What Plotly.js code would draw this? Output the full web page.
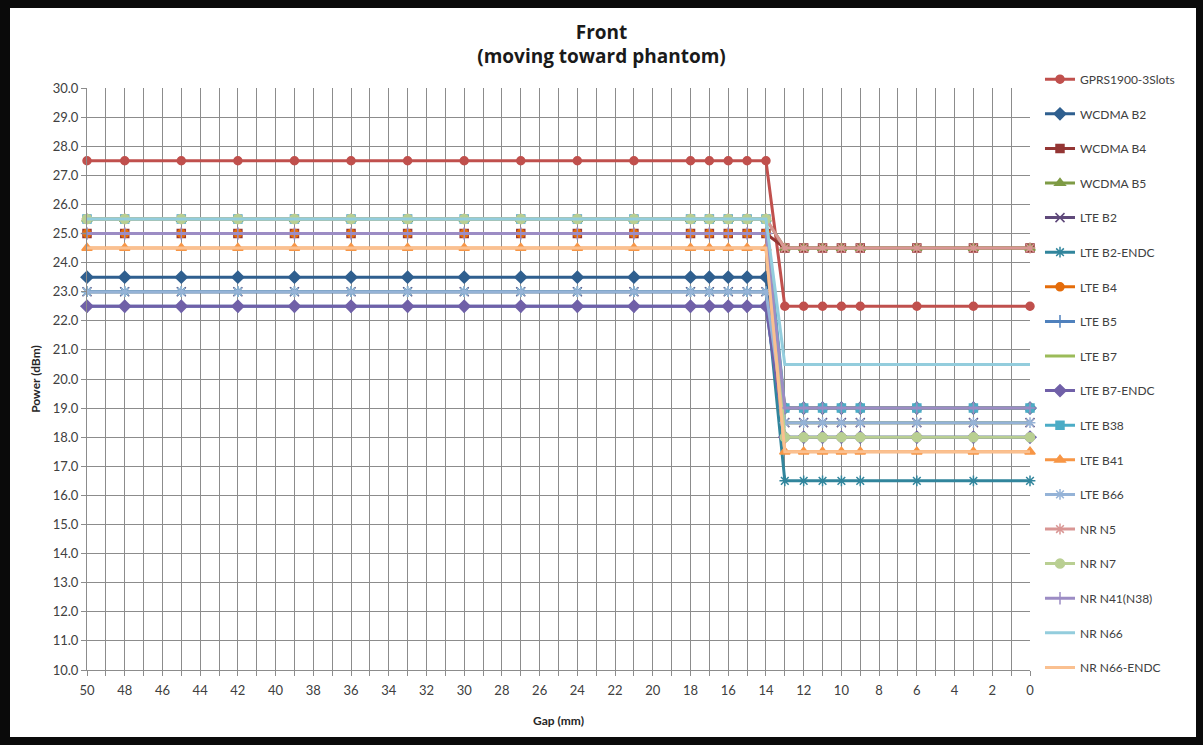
<!DOCTYPE html>
<html>
<head>
<meta charset="utf-8">
<script src="https://cdn.plot.ly/plotly-3.0.1.min.js"></script>
<style>
  html, body { margin: 0; padding: 0; background: #fff; }
  #wrap { position: relative; width: 1203px; height: 745px; }
  #chart { position: absolute; left: 0; top: 0; width: 1203px; height: 745px; }
  #frame { position: absolute; left: 0; top: 0; width: 1203px; height: 745px; box-sizing: border-box;
           border-style: solid; border-color: #0a0a0a; border-width: 8px 7px 8px 10px; pointer-events: none; }
</style>
</head>
<body>
<div id="wrap"><div id="chart"></div><div id="frame"></div></div>
<script>
// Gap (mm) sample positions
const gap = [50, 48, 45, 42, 39, 36, 33, 30, 27, 24, 21, 18, 17, 16, 15, 14, 13, 12, 11, 10, 9, 6, 3, 0];

const seriesNames = ["GPRS1900-3Slots", "WCDMA B2", "WCDMA B4", "WCDMA B5", "LTE B2", "LTE B2-ENDC",
  "LTE B4", "LTE B5", "LTE B7", "LTE B7-ENDC", "LTE B38", "LTE B41", "LTE B66", "NR N5", "NR N7",
  "NR N41(N38)", "NR N66", "NR N66-ENDC"];

// Power (dBm) per series, one value per gap position
const gprs1900   = [27.5,27.5,27.5,27.5,27.5,27.5,27.5,27.5,27.5,27.5,27.5,27.5,27.5,27.5,27.5,27.5,22.5,22.5,22.5,22.5,22.5,22.5,22.5,22.5];
const wcdmaB2    = [23.5,23.5,23.5,23.5,23.5,23.5,23.5,23.5,23.5,23.5,23.5,23.5,23.5,23.5,23.5,23.5,19.0,19.0,19.0,19.0,19.0,19.0,19.0,19.0];
const wcdmaB4    = [25.0,25.0,25.0,25.0,25.0,25.0,25.0,25.0,25.0,25.0,25.0,25.0,25.0,25.0,25.0,25.0,24.5,24.5,24.5,24.5,24.5,24.5,24.5,24.5];
const wcdmaB5    = [25.5,25.5,25.5,25.5,25.5,25.5,25.5,25.5,25.5,25.5,25.5,25.5,25.5,25.5,25.5,25.5,24.5,24.5,24.5,24.5,24.5,24.5,24.5,24.5];
const lteB2      = [23.0,23.0,23.0,23.0,23.0,23.0,23.0,23.0,23.0,23.0,23.0,23.0,23.0,23.0,23.0,23.0,18.5,18.5,18.5,18.5,18.5,18.5,18.5,18.5];
const lteB2Endc  = [23.0,23.0,23.0,23.0,23.0,23.0,23.0,23.0,23.0,23.0,23.0,23.0,23.0,23.0,23.0,23.0,16.5,16.5,16.5,16.5,16.5,16.5,16.5,16.5];
const lteB4      = [25.0,25.0,25.0,25.0,25.0,25.0,25.0,25.0,25.0,25.0,25.0,25.0,25.0,25.0,25.0,25.0,19.0,19.0,19.0,19.0,19.0,19.0,19.0,19.0];
const lteB5      = [22.5,22.5,22.5,22.5,22.5,22.5,22.5,22.5,22.5,22.5,22.5,22.5,22.5,22.5,22.5,22.5,18.0,18.0,18.0,18.0,18.0,18.0,18.0,18.0];
const lteB7      = [25.5,25.5,25.5,25.5,25.5,25.5,25.5,25.5,25.5,25.5,25.5,25.5,25.5,25.5,25.5,25.5,18.5,18.5,18.5,18.5,18.5,18.5,18.5,18.5];
const lteB7Endc  = [22.5,22.5,22.5,22.5,22.5,22.5,22.5,22.5,22.5,22.5,22.5,22.5,22.5,22.5,22.5,22.5,18.0,18.0,18.0,18.0,18.0,18.0,18.0,18.0];
const lteB38     = [25.5,25.5,25.5,25.5,25.5,25.5,25.5,25.5,25.5,25.5,25.5,25.5,25.5,25.5,25.5,25.5,19.0,19.0,19.0,19.0,19.0,19.0,19.0,19.0];
const lteB41     = [24.5,24.5,24.5,24.5,24.5,24.5,24.5,24.5,24.5,24.5,24.5,24.5,24.5,24.5,24.5,24.5,17.5,17.5,17.5,17.5,17.5,17.5,17.5,17.5];
const lteB66     = [23.0,23.0,23.0,23.0,23.0,23.0,23.0,23.0,23.0,23.0,23.0,23.0,23.0,23.0,23.0,23.0,18.5,18.5,18.5,18.5,18.5,18.5,18.5,18.5];
const nrN5       = [25.5,25.5,25.5,25.5,25.5,25.5,25.5,25.5,25.5,25.5,25.5,25.5,25.5,25.5,25.5,25.5,24.5,24.5,24.5,24.5,24.5,24.5,24.5,24.5];
const nrN7       = [25.5,25.5,25.5,25.5,25.5,25.5,25.5,25.5,25.5,25.5,25.5,25.5,25.5,25.5,25.5,25.5,18.0,18.0,18.0,18.0,18.0,18.0,18.0,18.0];
const nrN41      = [25.0,25.0,25.0,25.0,25.0,25.0,25.0,25.0,25.0,25.0,25.0,25.0,25.0,25.0,25.0,25.0,19.0,19.0,19.0,19.0,19.0,19.0,19.0,19.0];
const nrN66      = [25.5,25.5,25.5,25.5,25.5,25.5,25.5,25.5,25.5,25.5,25.5,25.5,25.5,25.5,25.5,25.5,20.5,20.5,20.5,20.5,20.5,20.5,20.5,20.5];
const nrN66Endc  = [24.5,24.5,24.5,24.5,24.5,24.5,24.5,24.5,24.5,24.5,24.5,24.5,24.5,24.5,24.5,24.5,17.5,17.5,17.5,17.5,17.5,17.5,17.5,17.5];

const yTickVals = [10,11,12,13,14,15,16,17,18,19,20,21,22,23,24,25,26,27,28,29,30];
const xTickVals = [50,48,46,44,42,40,38,36,34,32,30,28,26,24,22,20,18,16,14,12,10,8,6,4,2,0];

const seriesValues = [gprs1900, wcdmaB2, wcdmaB4, wcdmaB5, lteB2, lteB2Endc, lteB4, lteB5, lteB7,
  lteB7Endc, lteB38, lteB41, lteB66, nrN5, nrN7, nrN41, nrN66, nrN66Endc];

const styles = [
  {c:"#C0504D", s:"circle", z:8},
  {c:"#2F5F8F", s:"diamond", z:9},
  {c:"#943634", s:"square", z:8},
  {c:"#7E9B45", s:"triangle-up", z:9},
  {c:"#5F497A", s:"x-thin-open", z:9},
  {c:"#31859C", s:"asterisk-open", z:9},
  {c:"#E46C0A", s:"circle", z:8},
  {c:"#4F81BD", s:"cross-thin-open", z:9},
  {c:"#9BBB59", s:null, z:0},
  {c:"#7060A8", s:"diamond", z:9},
  {c:"#4BACC6", s:"square", z:8},
  {c:"#F79646", s:"triangle-up", z:9},
  {c:"#95B3D7", s:"asterisk-open", z:9},
  {c:"#D99694", s:"asterisk-open", z:9},
  {c:"#B9CF92", s:"circle", z:9},
  {c:"#9C8CC4", s:"cross-thin-open", z:9},
  {c:"#93CDDD", s:null, z:0},
  {c:"#FAC090", s:null, z:0}
];

const traces = seriesNames.map((name, i) => {
  const st = styles[i];
  const t = {
    type: "scatter",
    x: gap,
    y: seriesValues[i],
    name: name,
    legendgroup: "g" + i,
    mode: st.s ? "lines+markers" : "lines",
    line: {color: st.c, width: 3},
    cliponaxis: false,
    hoverinfo: "x+y+name"
  };
  if (st.s) {
    t.marker = {symbol: st.s, size: st.z, color: st.c, line: {color: st.c, width: 1.5}};
  }
  return t;
});

const layout = {
  width: 1203,
  height: 745,
  paper_bgcolor: "#ffffff",
  plot_bgcolor: "#ffffff",
  font: {family: "Lato, 'Open Sans', sans-serif", color: "#404040", size: 12},
  margin: {l: 87, r: 173, t: 88, b: 75},
  title: {
    text: "<b>Front<br>(moving toward phantom)</b>",
    x: 0.5, xanchor: "center", y: 0.948, yanchor: "top",
    font: {family: "'Open Sans', Lato, sans-serif", size: 19, color: "#1a1a1a"}
  },
  showlegend: true,
  legend: {
    x: 1.0106, xanchor: "left", y: 1.04, yanchor: "top",
    maxheight: 700,
    tracegroupgap: 15.6,
    font: {size: 12, color: "#404040"},
    bgcolor: "rgba(0,0,0,0)",
    itemwidth: 30
  },
  xaxis: {
    range: [50, 0],
    tickmode: "array",
    tickvals: xTickVals,
    ticktext: xTickVals.map(String),
    showgrid: true,
    gridcolor: "#8c8c8c",
    gridwidth: 1,
    minor: {dtick: 1, showgrid: true, gridcolor: "#8c8c8c", gridwidth: 1, ticks: "outside", ticklen: 5, tickcolor: "#8c8c8c"},
    ticks: "outside",
    ticklen: 5,
    tickcolor: "#8c8c8c",
    ticklabelstandoff: 3,
    showline: true,
    linecolor: "#8c8c8c",
    zeroline: false,
    tickfont: {size: 13, color: "#404040"},
    title: {text: "<b>Gap (mm)</b>", font: {size: 12, color: "#262626"}, standoff: 20}
  },
  yaxis: {
    range: [10, 30],
    tickmode: "array",
    tickvals: yTickVals,
    ticktext: yTickVals.map(v => v.toFixed(1)),
    showgrid: true,
    gridcolor: "#8c8c8c",
    gridwidth: 1,
    ticks: "outside",
    ticklen: 5,
    tickcolor: "#8c8c8c",
    showline: true,
    linecolor: "#8c8c8c",
    zeroline: false,
    tickfont: {size: 13, color: "#404040"},
    title: {text: "<b>Power (dBm)</b>", font: {size: 12, color: "#262626"}, standoff: 9}
  },
  hovermode: "closest"
};

Plotly.newPlot("chart", traces, layout, {displayModeBar: false});
</script>
</body>
</html>
